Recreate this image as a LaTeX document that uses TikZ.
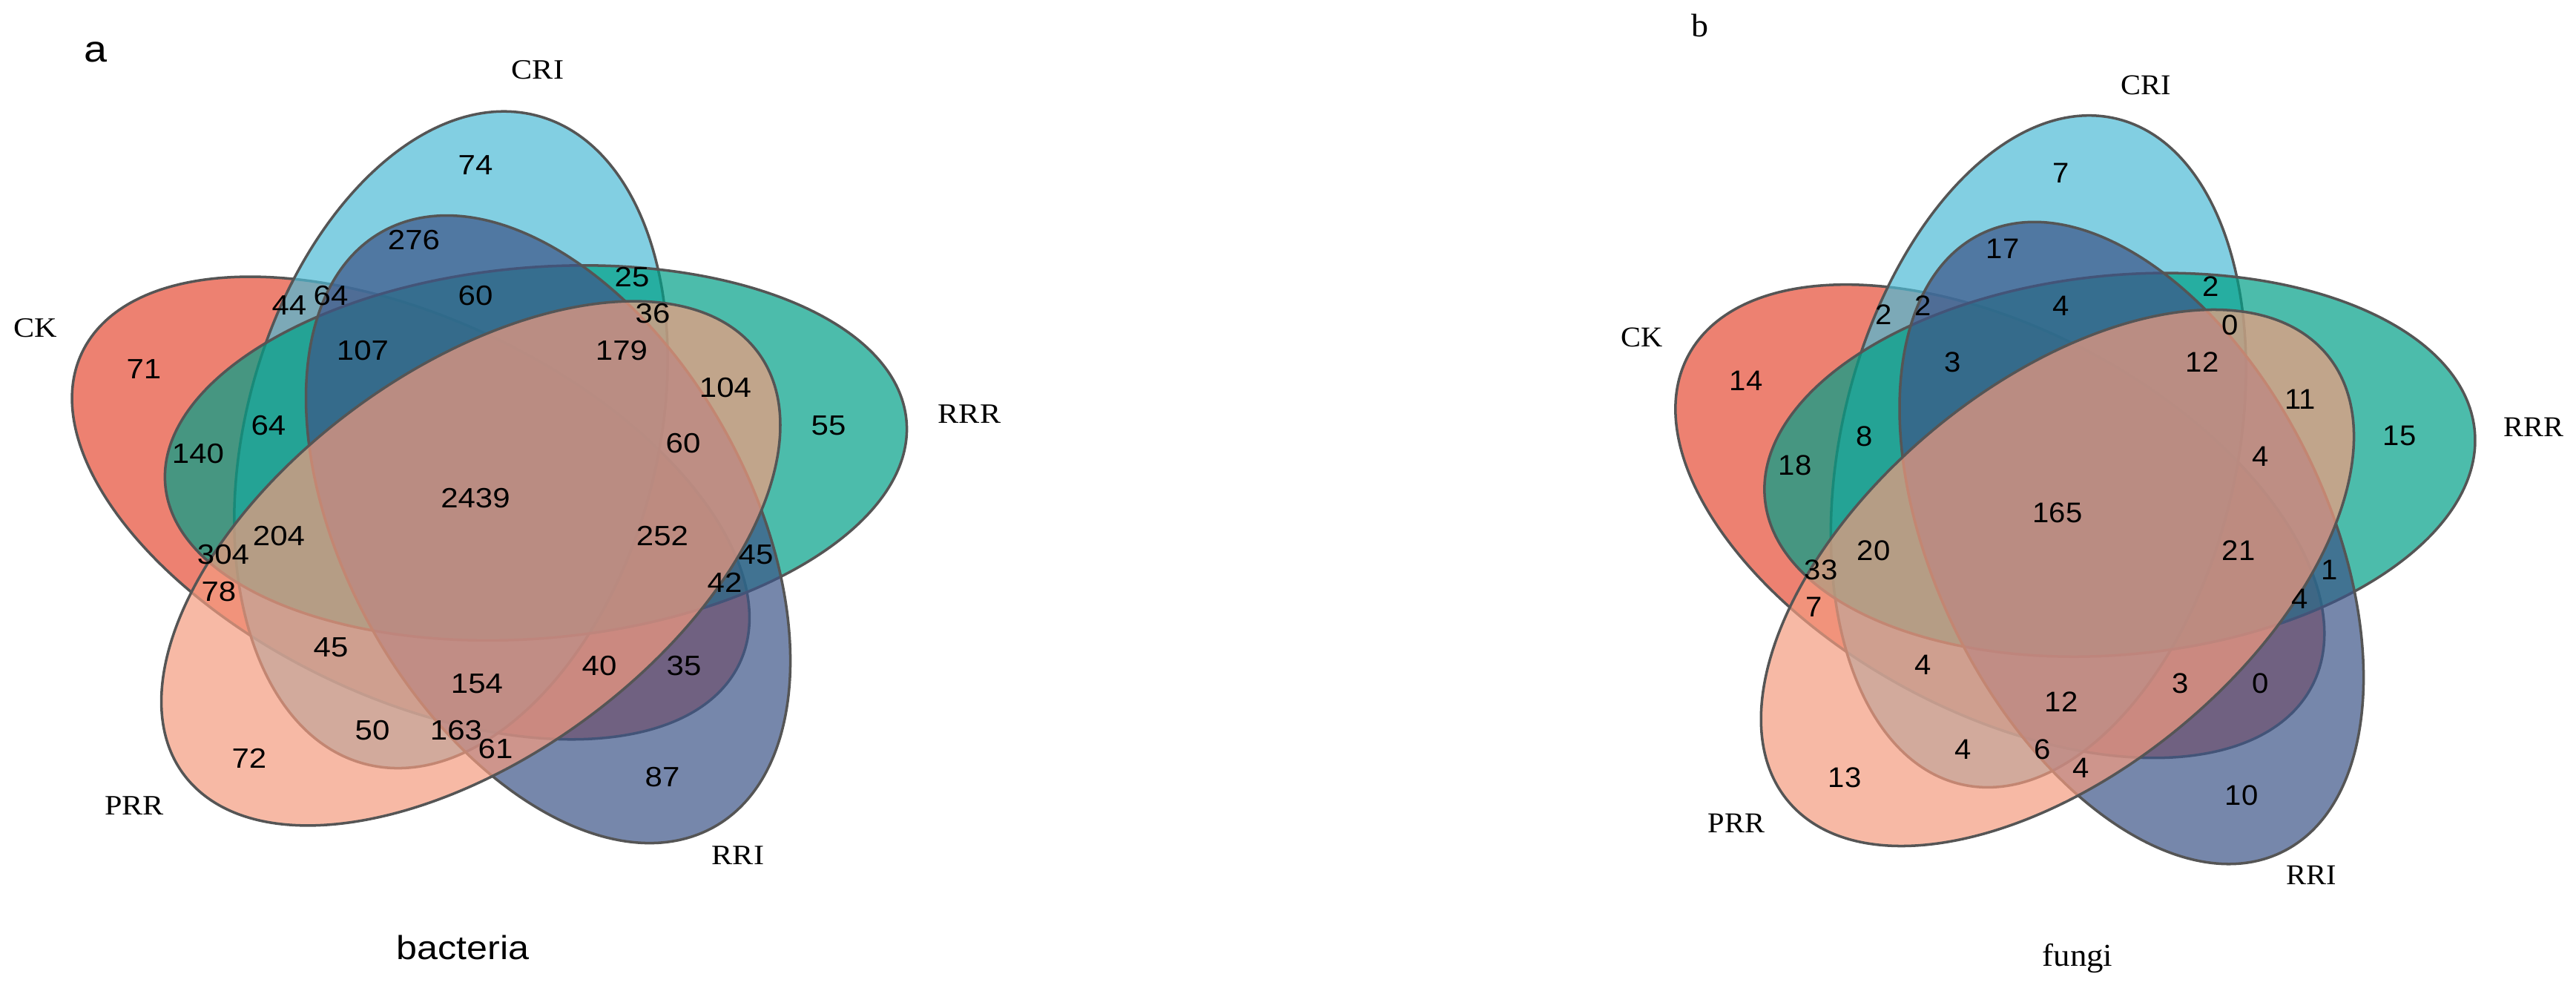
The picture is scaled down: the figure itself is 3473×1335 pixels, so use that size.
\documentclass[tikz,border=0pt]{standalone}
\usepackage{fontspec}
\setmainfont{Liberation Serif}
\newfontfamily\cntfonta[FakeStretch=1.117]{Liberation Sans}
\newfontfamily\labfonta[FakeStretch=1.117]{Liberation Serif}
\newfontfamily\cntfontb[FakeStretch=1.046]{Liberation Sans}
\newfontfamily\labfontb[FakeStretch=1.046]{Liberation Serif}
\usepackage{xcolor}
\definecolor{npgred}{HTML}{E64B35}
\definecolor{npgblue}{HTML}{4DBBD5}
\definecolor{npgteal}{HTML}{00A087}
\definecolor{npgnavy}{HTML}{3C5488}
\definecolor{npgsalmon}{HTML}{F39B7F}
\definecolor{edgegray}{RGB}{85,85,85}
\tikzset{
    venn/.style={draw=edgegray, line width=1pt, fill opacity=0.7},
    cnta/.style={font=\cntfonta\fontsize{10.7}{12}\selectfont, inner sep=0pt},
    laba/.style={font=\labfonta\fontsize{10.75}{12}\selectfont, inner sep=0pt},
    cntb/.style={font=\cntfontb\fontsize{10.9}{12}\selectfont, inner sep=0pt},
    labb/.style={font=\labfontb\fontsize{11}{12}\selectfont, inner sep=0pt}
}

\begin{document}
\begin{tikzpicture}[x=0.1mm, y=0.1mm]
\useasboundingbox (0,0) rectangle (3473,1335);

% panel a: bacteria
\begin{scope}[shift={(651.6,662.7)}, xscale=1.117]
    \draw[venn, fill=npgred, shift={(188.2:88.5)}, rotate=150] (0,0) ellipse [x radius=449.4, y radius=249.7];
    \draw[venn, fill=npgblue, shift={(116.2:88.5)}, rotate=78] (0,0) ellipse [x radius=449.4, y radius=249.7];
    \draw[venn, fill=npgteal, shift={(44.2:88.5)}, rotate=6] (0,0) ellipse [x radius=449.4, y radius=249.7];
    \draw[venn, fill=npgnavy, shift={(332.2:88.5)}, rotate=294] (0,0) ellipse [x radius=449.4, y radius=249.7];
    \draw[venn, fill=npgsalmon, shift={(260.2:88.5)}, rotate=222] (0,0) ellipse [x radius=449.4, y radius=249.7];
\end{scope}

\node[anchor=base, inner sep=0pt, font=\cntfonta\fontsize{14.2}{16}\selectfont] (pa) at (129,1251) {a};
\node[laba] (aCRI) at (725,1241) {CRI};
\node[laba] (aCK) at (48,893) {CK};
\node[laba] (aRRR) at (1307,777) {RRR};
\node[laba] (aPRR) at (181,249) {PRR};
\node[laba] (aRRI) at (995,182) {RRI};
\node[anchor=base, inner sep=0pt, font=\cntfonta\fontsize{12.8}{14}\selectfont] (atitle) at (624,42) {bacteria};

\node[cnta] (a74) at (641,1112) {74};
\node[cnta] (a276) at (558,1011) {276};
\node[cnta] (a44) at (390,923) {44};
\node[cnta] (a64t) at (446,936) {64};
\node[cnta] (a60t) at (641,936) {60};
\node[cnta] (a25) at (852,961) {25};
\node[cnta] (a36) at (880,912) {36};
\node[cnta] (a107) at (489,862) {107};
\node[cnta] (a179) at (838,862) {179};
\node[cnta] (a71) at (194,837) {71};
\node[cnta] (a104) at (978,812) {104};
\node[cnta] (a55) at (1117,761) {55};
\node[cnta] (a64l) at (362,761) {64};
\node[cnta] (a60r) at (921,737) {60};
\node[cnta] (a140) at (267,723) {140};
\node[cnta] (a2439) at (641,663) {2439};
\node[cnta] (a204) at (376,612) {204};
\node[cnta] (a252) at (893,612) {252};
\node[cnta] (a304) at (301,587) {304};
\node[cnta] (a45r) at (1019,587) {45};
\node[cnta] (a42) at (977,550) {42};
\node[cnta] (a78) at (295,537) {78};
\node[cnta] (a45l) at (446,462) {45};
\node[cnta] (a40) at (808,437) {40};
\node[cnta] (a35) at (922,437) {35};
\node[cnta] (a154) at (643,413) {154};
\node[cnta] (a50) at (502,350) {50};
\node[cnta] (a163) at (615,350) {163};
\node[cnta] (a61) at (668,325) {61};
\node[cnta] (a72) at (336,313) {72};
\node[cnta] (a87) at (893,287) {87};

% panel b: fungi
\begin{scope}[shift={(2790,645.2)}, xscale=1.070, yscale=1.023]
    \draw[venn, fill=npgred, shift={(188.2:88.5)}, rotate=150] (0,0) ellipse [x radius=449.4, y radius=249.7];
    \draw[venn, fill=npgblue, shift={(116.2:88.5)}, rotate=78] (0,0) ellipse [x radius=449.4, y radius=249.7];
    \draw[venn, fill=npgteal, shift={(44.2:88.5)}, rotate=6] (0,0) ellipse [x radius=449.4, y radius=249.7];
    \draw[venn, fill=npgnavy, shift={(332.2:88.5)}, rotate=294] (0,0) ellipse [x radius=449.4, y radius=249.7];
    \draw[venn, fill=npgsalmon, shift={(260.2:88.5)}, rotate=222] (0,0) ellipse [x radius=449.4, y radius=249.7];
\end{scope}

\node[anchor=base, inner sep=0pt, font=\labfontb\fontsize{12.5}{14}\selectfont] (pb) at (2292,1285) {b};
\node[labb] (bCRI) at (2893,1220) {CRI};
\node[labb] (bCK) at (2214,880) {CK};
\node[labb] (bRRR) at (3416,759) {RRR};
\node[labb] (bPRR) at (2341,225) {PRR};
\node[labb] (bRRI) at (3116,155) {RRI};
\node[anchor=base, inner sep=0pt, font=\labfontb\fontsize{12.2}{14}\selectfont] (btitle) at (2801,33) {fungi};

\node[cntb] (b7t) at (2779,1102) {7};
\node[cntb] (b17) at (2700,1000) {17};
\node[cntb] (b2l) at (2540,911) {2};
\node[cntb] (b2m) at (2593,923) {2};
\node[cntb] (b4t) at (2779,923) {4};
\node[cntb] (b2r) at (2981,949) {2};
\node[cntb] (b0t) at (3007,897) {0};
\node[cntb] (b3t) at (2633,847) {3};
\node[cntb] (b12t) at (2969,847) {12};
\node[cntb] (b14) at (2354,822) {14};
\node[cntb] (b11) at (3101,797) {11};
\node[cntb] (b15) at (3235,747) {15};
\node[cntb] (b8) at (2514,747) {8};
\node[cntb] (b4r) at (3048,720) {4};
\node[cntb] (b18) at (2420,708) {18};
\node[cntb] (b165) at (2774,644) {165};
\node[cntb] (b20) at (2526,593) {20};
\node[cntb] (b21) at (3018,593) {21};
\node[cntb] (b33) at (2455,567) {33};
\node[cntb] (b1) at (3141,567) {1};
\node[cntb] (b4rr) at (3101,528) {4};
\node[cntb] (b7l) at (2446,517) {7};
\node[cntb] (b4l) at (2593,439) {4};
\node[cntb] (b3b) at (2940,414) {3};
\node[cntb] (b0b) at (3048,414) {0};
\node[cntb] (b12b) at (2779,389) {12};
\node[cntb] (b4bl) at (2647,325) {4};
\node[cntb] (b6) at (2754,325) {6};
\node[cntb] (b4b) at (2806,300) {4};
\node[cntb] (b13) at (2487,287) {13};
\node[cntb] (b10) at (3022,263) {10};
\end{tikzpicture}
\end{document}
